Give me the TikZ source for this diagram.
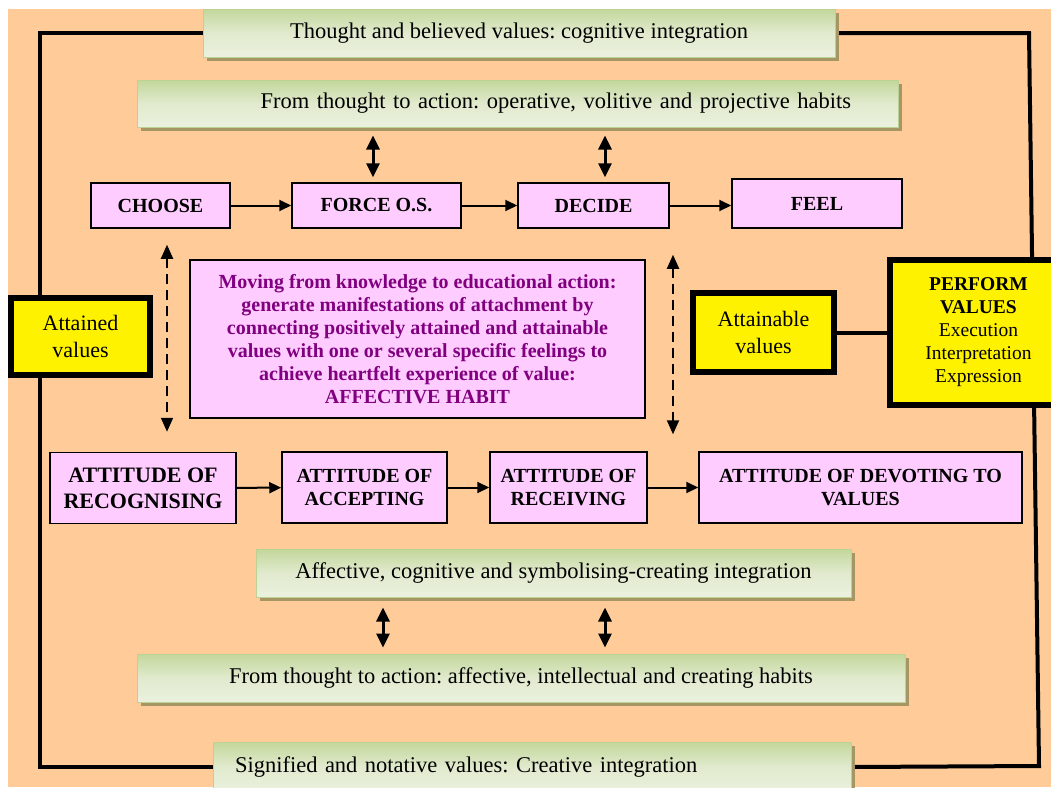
\documentclass[tikz,border=0pt]{standalone}
\usepackage{fontspec}
\setmainfont{Liberation Serif}
\usetikzlibrary{arrows.meta,shadows}
\definecolor{peach}{HTML}{FFCC99}
\definecolor{pinkfill}{HTML}{FFCCFF}
\definecolor{bannertop}{HTML}{C3D79B}
\definecolor{bannermid}{HTML}{E1EACE}
\definecolor{bannerbot}{HTML}{EBF1DE}
\definecolor{bannerline}{HTML}{BCD294}
\definecolor{bannershadow}{HTML}{A59664}
\definecolor{habitpurple}{HTML}{800080}
\pgfdeclarelayer{bg}
\pgfdeclarelayer{mid}
\pgfsetlayers{bg,mid,main}
\frenchspacing
\tikzset{
  banner/.style={rectangle, draw=bannerline, line width=1pt,
    top color=bannertop, bottom color=bannerbot, middle color=bannermid,
    general shadow={fill=bannershadow, shadow xshift=4pt, shadow yshift=-4pt},
    inner sep=0pt, font=\fontsize{22.5}{26}\selectfont},
  pinkbox/.style={rectangle, draw=black, line width=1.5pt, fill=pinkfill,
    inner sep=0pt, align=center, font=\bfseries\fontsize{20}{23}\selectfont},
  yellowbox/.style={rectangle, draw=black, line width=6pt, fill=yellow,
    inner sep=0pt, align=center, font=\fontsize{22}{27}\selectfont},
  frameline/.style={line width=4pt, line join=miter},
  flow/.style={line width=2pt, -{Triangle[length=12pt,width=11pt]}},
  dbl/.style={line width=3pt,
    {Triangle[length=14pt,width=13pt]}-{Triangle[length=14pt,width=13pt]}},
  dsh/.style={line width=2pt, dash pattern=on 10pt off 6pt,
    {Triangle[length=14pt,width=12pt]}-{Triangle[length=14pt,width=12pt]}},
}
\begin{document}
\begin{tikzpicture}[x=1pt, y=-1pt]
  \clip (0,0) rectangle (1051,787);
  \useasboundingbox (0,0) rectangle (1051,787);
  \begin{pgfonlayer}{bg}
    \fill[white] (0,0) rectangle (1051,787);
    \fill[peach] (8,9) rectangle (1051,787);
  \end{pgfonlayer}

  % integration and habit banners
  \node[banner, minimum width=632pt, minimum height=48pt] (b1) at (519,33)
    {Thought and believed values: cognitive integration};
  \node[banner, minimum height=47pt, inner xsep=47pt, text width=667pt, align=right] (b2) at (517.5,103.5)
    {From thought to action: operative, volitive and projective habits};
  \node[banner, minimum width=595pt, minimum height=48pt] (b3) at (553.5,573)
    {Affective, cognitive and symbolising-creating integration};
  \node[banner, minimum width=768pt, minimum height=48pt] (b4) at (521,678)
    {From thought to action: affective, intellectual and creating habits};
  \node[banner, minimum height=50pt, inner xsep=22pt, text width=594pt, align=left] (b5) at (532,767)
    {Signified and notative values: Creative integration};

  % volitive steps
  \node[pinkbox, minimum width=139pt, minimum height=45pt] (choose) at (160.5,205.5) {CHOOSE};
  \node[pinkbox, minimum width=169pt, minimum height=45pt] (force) at (376.5,205.5) {FORCE O.S.};
  \node[pinkbox, minimum width=151pt, minimum height=45pt] (decide) at (593.5,205.5) {DECIDE};
  \node[pinkbox, minimum width=170pt, minimum height=49pt] (feel) at (817,203.5) {FEEL};

  % attitudes
  \node[pinkbox, minimum width=186pt, minimum height=71pt, font=\bfseries\fontsize{22}{26}\selectfont]
    (recog) at (143,488) {ATTITUDE OF\\RECOGNISING};
  \node[pinkbox, minimum width=165pt, minimum height=71pt] (accept) at (364.5,487.5) {ATTITUDE OF\\ACCEPTING};
  \node[pinkbox, minimum width=157pt, minimum height=71pt] (receiv) at (568.5,487.5) {ATTITUDE OF\\RECEIVING};
  \node[pinkbox, minimum width=323pt, minimum height=71pt] (devot) at (860.5,487.5) {ATTITUDE OF DEVOTING TO\\VALUES};

  % central statement
  \node[pinkbox, minimum width=455pt, minimum height=158pt, text=habitpurple,
        font=\bfseries\fontsize{20}{23}\selectfont] (habit) at (417.5,339)
    {Moving from knowledge to educational action:\\
     generate manifestations of attachment by\\
     connecting positively attained and attainable\\
     values with one or several specific feelings to\\
     achieve heartfelt experience of value:\\
     AFFECTIVE HABIT};

  % values
  \node[yellowbox, minimum width=139pt, minimum height=77pt] (attained) at (80.5,336.5) {Attained\\values};
  \node[yellowbox, minimum width=141pt, minimum height=79pt] (attainable) at (763.5,332.5) {Attainable\\values};
  \node[yellowbox, minimum width=177pt, minimum height=145pt, font=\fontsize{19.5}{23}\selectfont]
    (perform) at (978.5,332.5)
    {\textbf{PERFORM}\\\textbf{VALUES}\\Execution\\Interpretation\\Expression};

  % outer frame
  \coordinate (lt) at (40,33);
  \coordinate (lb) at (40,767);
  \coordinate (rt) at (1029,33);
  \coordinate (rb) at (1039,766);
  \begin{pgfonlayer}{mid}
    \draw[frameline] (b1.west) -- (lt) -- (lb) -- (b5.west);
    \draw[frameline] (b1.east) -- (rt) -- (rb) -- (b5.east);
  \end{pgfonlayer}
  \draw[line width=4pt] (attainable.east) -- (perform.west);

  % flow arrows
  \draw[flow] (choose) -- (force);
  \draw[flow] (force) -- (decide);
  \draw[flow] (decide.east) -- (decide.east -| feel.west);
  \draw[flow] (recog) -- (accept);
  \draw[flow] (accept) -- (receiv);
  \draw[flow] (receiv) -- (devot);

  % two-way links with the habit banners
  \coordinate (u1) at (373,0);
  \coordinate (u2) at (605,0);
  \draw[dbl, shorten <=5pt, shorten >=8pt] (force.north -| u1) -- (b2.south -| u1);
  \draw[dbl, shorten <=5pt, shorten >=8pt] (decide.north -| u2) -- (b2.south -| u2);
  \coordinate (l1) at (383,0);
  \coordinate (l2) at (605,0);
  \draw[dbl, shorten <=10pt, shorten >=6pt] (b3.south -| l1) -- (b4.north -| l1);
  \draw[dbl, shorten <=10pt, shorten >=6pt] (b3.south -| l2) -- (b4.north -| l2);

  % dashed links between steps and attitudes
  \coordinate (d1) at (167,0);
  \coordinate (d2) at (673,0);
  \draw[dsh, shorten <=16pt, shorten >=20pt] (choose.south -| d1) -- (recog.north -| d1);
  \draw[dsh, shorten <=26pt, shorten >=17pt] (decide.south -| d2) -- (receiv.north -| d2);
\end{tikzpicture}
\end{document}
